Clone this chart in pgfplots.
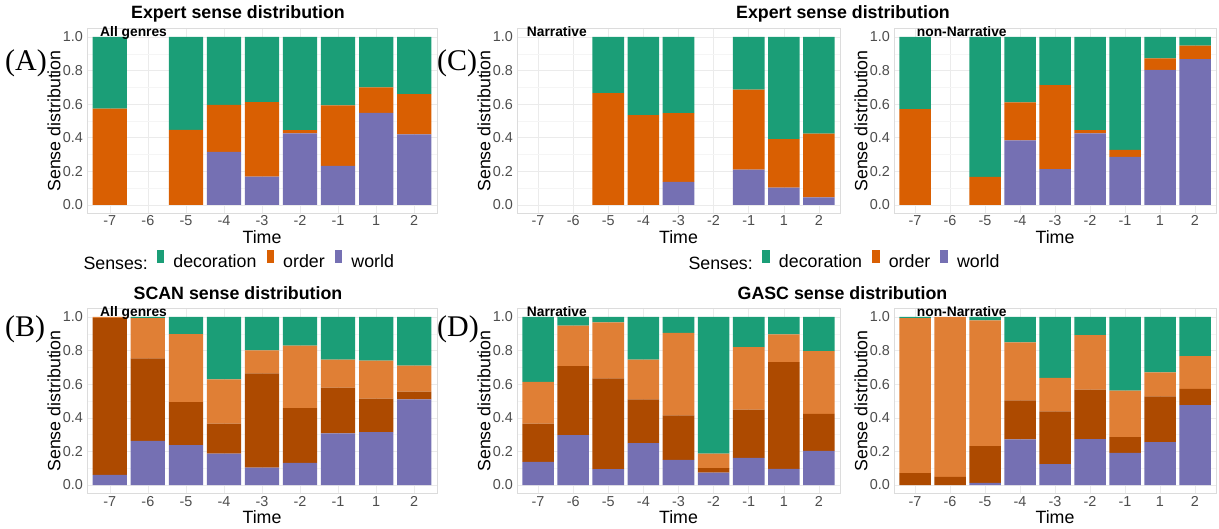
\documentclass[border=0pt]{standalone}
\usepackage{pgfplots}
\pgfplotsset{compat=1.18}
\usepackage{pgfplotstable}
\usepackage{fontspec}
\setmainfont{Liberation Sans}
\newfontfamily\tagfont{Liberation Serif}

\definecolor{cdec}{HTML}{1B9E77}
\definecolor{corder}{HTML}{D95F02}
\definecolor{cworld}{HTML}{7570B3}
\definecolor{cdark}{HTML}{AD4A00}
\definecolor{clight}{HTML}{E07F35}
\definecolor{gridmaj}{HTML}{EBEBEB}
\definecolor{gridmin}{HTML}{F5F5F5}
\definecolor{panelborder}{HTML}{DCDCDC}
\definecolor{tickgray}{HTML}{4D4D4D}

\newcommand\ticksz{\fontsize{14.4}{16}\selectfont}
\newcommand\labsz{\fontsize{17.8}{20}\selectfont}
\newcommand\titsz{\bfseries\fontsize{17.8}{20}\selectfont}
\newcommand\tagsz{\bfseries\fontsize{13.8}{15}\selectfont}

% x: 0..8 = times -7,-6,-5,-4,-3,-2,-1,1,2
% Expert, all genres
\pgfplotstableread{
x world order dec
0 0     0.573 0.427
1 0     0     0
2 0     0.447 0.553
3 0.316 0.280 0.404
4 0.169 0.443 0.388
5 0.427 0.018 0.555
6 0.233 0.360 0.407
7 0.549 0.151 0.300
8 0.420 0.240 0.340
}\tabA
% Expert, narrative
\pgfplotstableread{
x world order dec
0 0     0     0
1 0     0     0
2 0     0.666 0.334
3 0     0.535 0.465
4 0.137 0.410 0.453
5 0     0     0
6 0.211 0.475 0.314
7 0.103 0.289 0.608
8 0.046 0.379 0.575
}\tabCn
% Expert, non-narrative
\pgfplotstableread{
x world order dec
0 0     0.571 0.429
1 0     0     0
2 0     0.167 0.833
3 0.384 0.227 0.389
4 0.213 0.501 0.286
5 0.427 0.018 0.555
6 0.286 0.042 0.672
7 0.805 0.068 0.127
8 0.869 0.079 0.052
}\tabCo
% SCAN, all genres
\pgfplotstableread{
x world dark light dec
0 0.060 0.934 0.006 0
1 0.263 0.490 0.241 0.006
2 0.237 0.257 0.404 0.102
3 0.187 0.178 0.264 0.371
4 0.104 0.561 0.136 0.199
5 0.131 0.327 0.371 0.171
6 0.307 0.273 0.167 0.253
7 0.314 0.200 0.226 0.260
8 0.510 0.046 0.155 0.289
}\tabB
% GASC, narrative
\pgfplotstableread{
x world dark light dec
0 0.137 0.228 0.249 0.386
1 0.297 0.410 0.241 0.052
2 0.094 0.541 0.333 0.032
3 0.249 0.261 0.237 0.253
4 0.149 0.265 0.492 0.094
5 0.074 0.026 0.087 0.813
6 0.161 0.287 0.373 0.179
7 0.096 0.635 0.165 0.104
8 0.203 0.221 0.373 0.203
}\tabDn
% GASC, non-narrative
\pgfplotstableread{
x world dark light dec
0 0     0.070 0.924 0.006
1 0     0.048 0.952 0
2 0.012 0.219 0.749 0.020
3 0.271 0.233 0.345 0.151
4 0.125 0.313 0.199 0.363
5 0.273 0.295 0.324 0.108
6 0.191 0.094 0.277 0.438
7 0.255 0.273 0.143 0.329
8 0.476 0.096 0.195 0.233
}\tabDo

\pgfplotsset{
  sb/.style={fill=#1, draw=none},
  panel/.style={
    scale only axis, height=184.8pt, anchor=south west,
    xmin=-0.6, xmax=8.6, ymin=-0.05, ymax=1.05,
    xtick={0,...,8}, xticklabels={-7,-6,-5,-4,-3,-2,-1,1,2},
    ytick={0,0.2,0.4,0.6,0.8,1}, yticklabels={0.0,0.2,0.4,0.6,0.8,1.0},
    minor ytick={0.1,0.3,0.5,0.7,0.9},
    grid=both,
    major grid style={draw=gridmaj, line width=0.6pt},
    minor grid style={draw=gridmin, line width=0.5pt},
    axis line style={draw=panelborder, line width=0.7pt},
    major tick length=0pt, minor tick length=0pt,
    ticklabel style={font=\ticksz, text=tickgray, inner sep=0pt},
    xticklabel style={anchor=base, yshift=-12.6pt},
    yticklabel style={anchor=east, xshift=-4pt},
    xlabel={Time}, ylabel={Sense distribution},
    every axis x label/.style={at={(rel axis cs:0.5,0)}, anchor=base,
      yshift=-29.7pt, font=\labsz, inner sep=0pt},
    every axis y label/.style={at={(rel axis cs:0,0.5)}, anchor=center,
      rotate=90, yshift=33pt, font=\labsz, inner sep=0pt},
    ybar stacked, bar width=0.9,
    every axis plot post/.append style={
      legend image code/.code={\fill[##1] (0pt,-1pt) rectangle (7.7pt,12.3pt);}},
  },
  senses/.style={
    legend columns=-1, reverse legend,
    legend style={draw=none, fill=none, inner sep=0pt, outer sep=0pt,
      at={(#1,-0.3025)}, anchor=south west, font=\labsz,
      nodes={inner sep=0pt},
      /tikz/every odd column/.append style={column sep=9pt},
      /tikz/every even column/.append style={column sep=10pt}},
  },
}

\begin{document}
\begin{tikzpicture}
\useasboundingbox (0,0) rectangle (1219pt,528pt);

% (A) Expert, all genres
\begin{axis}[panel, width=350pt, at={(87pt,314.6pt)}, senses=0.1991]
\addplot[sb=cworld] table[x=x,y=world]{\tabA};
\addplot[sb=corder] table[x=x,y=order]{\tabA};
\addplot[sb=cdec] table[x=x,y=dec]{\tabA};
\legend{world,order,decoration}
\end{axis}

% (C) Expert, narrative
\begin{axis}[panel, width=323pt, at={(517pt,314.6pt)}, senses=0.7594]
\addplot[sb=cworld] table[x=x,y=world]{\tabCn};
\addplot[sb=corder] table[x=x,y=order]{\tabCn};
\addplot[sb=cdec] table[x=x,y=dec]{\tabCn};
\legend{world,order,decoration}
\end{axis}

% (C) Expert, non-narrative
\begin{axis}[panel, width=322pt, at={(894pt,314.6pt)}]
\addplot[sb=cworld] table[x=x,y=world]{\tabCo};
\addplot[sb=corder] table[x=x,y=order]{\tabCo};
\addplot[sb=cdec] table[x=x,y=dec]{\tabCo};
\end{axis}

% (B) SCAN, all genres
\begin{axis}[panel, width=350pt, at={(87pt,34.6pt)}]
\addplot[sb=cworld] table[x=x,y=world]{\tabB};
\addplot[sb=cdark] table[x=x,y=dark]{\tabB};
\addplot[sb=clight] table[x=x,y=light]{\tabB};
\addplot[sb=cdec] table[x=x,y=dec]{\tabB};
\end{axis}

% (D) GASC, narrative
\begin{axis}[panel, width=323pt, at={(517pt,34.6pt)}]
\addplot[sb=cworld] table[x=x,y=world]{\tabDn};
\addplot[sb=cdark] table[x=x,y=dark]{\tabDn};
\addplot[sb=clight] table[x=x,y=light]{\tabDn};
\addplot[sb=cdec] table[x=x,y=dec]{\tabDn};
\end{axis}

% (D) GASC, non-narrative
\begin{axis}[panel, width=322pt, at={(894pt,34.6pt)}]
\addplot[sb=cworld] table[x=x,y=world]{\tabDo};
\addplot[sb=cdark] table[x=x,y=dark]{\tabDo};
\addplot[sb=clight] table[x=x,y=light]{\tabDo};
\addplot[sb=cdec] table[x=x,y=dec]{\tabDo};
\end{axis}

% titles
\node[font=\titsz, anchor=base, inner sep=0pt] at (238pt,509.7pt) {Expert sense distribution};
\node[font=\titsz, anchor=base, inner sep=0pt] at (843pt,509.7pt) {Expert sense distribution};
\node[font=\titsz, anchor=base, inner sep=0pt] at (238pt,228.7pt) {SCAN sense distribution};
\node[font=\titsz, anchor=base, inner sep=0pt] at (842.5pt,228.7pt) {GASC sense distribution};

% facet tags
\node[font=\tagsz, anchor=base west, inner sep=0pt] at (100pt,491.5pt) {All genres};
\node[font=\tagsz, anchor=base west, inner sep=0pt] at (526.7pt,491.5pt) {Narrative};
\node[font=\tagsz, anchor=base west, inner sep=0pt] at (916.7pt,491.5pt) {non-Narrative};
\node[font=\tagsz, anchor=base west, inner sep=0pt] at (100pt,211.5pt) {All genres};
\node[font=\tagsz, anchor=base west, inner sep=0pt] at (526.7pt,211.5pt) {Narrative};
\node[font=\tagsz, anchor=base west, inner sep=0pt] at (916.7pt,211.5pt) {non-Narrative};

% legend titles
\node[font=\labsz, anchor=base west, inner sep=0pt] at (83.3pt,258.7pt) {Senses:};
\node[font=\labsz, anchor=base west, inner sep=0pt] at (688.3pt,258.7pt) {Senses:};

% panel letters
\node[font=\tagfont\fontsize{30}{32}\selectfont, anchor=base west, inner sep=0pt] at (5pt,457pt) {(A)};
\node[font=\tagfont\fontsize{30}{32}\selectfont, anchor=base west, inner sep=0pt] at (5pt,191.3pt) {(B)};
\node[font=\tagfont\fontsize{30}{32}\selectfont, anchor=base west, inner sep=0pt] at (437pt,457pt) {(C)};
\node[font=\tagfont\fontsize{30}{32}\selectfont, anchor=base west, inner sep=0pt] at (437pt,191.3pt) {(D)};
\end{tikzpicture}
\end{document}
